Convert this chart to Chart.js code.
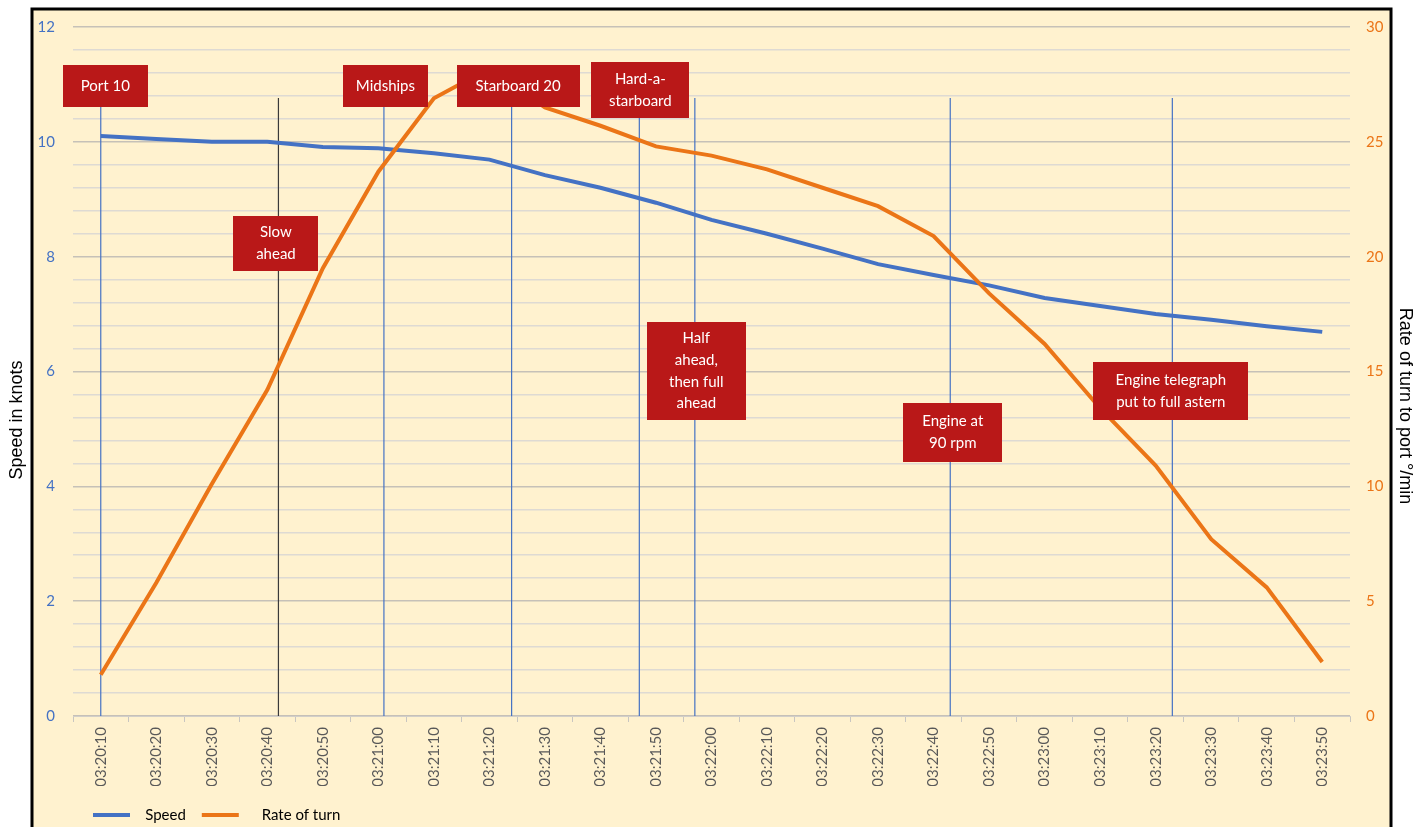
<!DOCTYPE html>
<html>
<head>
<meta charset="utf-8">
<script src="https://cdn.jsdelivr.net/npm/chart.js@4.4.1/dist/chart.umd.min.js"></script>
<style>
  html, body { margin: 0; padding: 0; background: #fff; }
  #wrap { width: 1427px; height: 827px; }
</style>
</head>
<body>
<div id="wrap"><canvas id="graphique" width="1427" height="827"></canvas></div>
<script>
// time stamps along the x axis
var timeLabels = ['03:20:10', '03:20:20', '03:20:30', '03:20:40', '03:20:50',
    '03:21:00', '03:21:10', '03:21:20', '03:21:30', '03:21:40', '03:21:50',
    '03:22:00', '03:22:10', '03:22:20', '03:22:30', '03:22:40', '03:22:50',
    '03:23:00', '03:23:10', '03:23:20', '03:23:30', '03:23:40', '03:23:50'];

// speed in knots (left axis)
var speedKnots = [10.1, 10.05, 10.0, 10.0, 9.91, 9.89, 9.8, 9.69, 9.42, 9.2, 8.94,
    8.64, 8.4, 8.14, 7.87, 7.68, 7.5, 7.28, 7.14, 7.0, 6.9, 6.79, 6.69];

// rate of turn to port, degrees per minute (right axis)
var turnRate = [1.8, 5.8, 10.1, 14.2, 19.5, 23.7, 26.9, 28.2, 26.5, 25.7, 24.8,
    24.4, 23.8, 23.0, 22.2, 20.9, 18.4, 16.2, 13.4, 10.9, 7.7, 5.6, 2.35];

// orders given, and when
var eventTimes = ['03:20:10', '03:20:42', '03:21:01', '03:21:24', '03:21:47',
    '03:21:57', '03:22:43', '03:23:23'];
var eventNotes = [['Port 10'], ['Slow', 'ahead'], ['Midships'], ['Starboard 20'],
    ['Hard-a-', 'starboard'], ['Half', 'ahead,', 'then full', 'ahead'],
    ['Engine at', '90 rpm'], ['Engine telegraph', 'put to full astern']];

// box layout for the notes (pixels): width, height, top, shift from the line
var noteBoxes = [
    { w: 85, h: 42, top: 65, dx: 4.5 },
    { w: 85, h: 55, top: 216, dx: -2.5 },
    { w: 85, h: 42, top: 65, dx: 1.5 },
    { w: 123, h: 42, top: 65, dx: 6.5 },
    { w: 98, h: 56, top: 62, dx: 1 },
    { w: 99, h: 98, top: 322, dx: 1.5 },
    { w: 99, h: 59, top: 403, dx: 2.5 },
    { w: 155, h: 58, top: 362, dx: -1.5 }
];
var eventLineColors = ['#4472C4', '#3a3a3a', '#4472C4', '#4472C4', '#4472C4', '#4472C4', '#4472C4', '#4472C4'];

var BLEU = '#4472C4';
var ORANGE = '#EB7517';
var POLICE = 'Lato, "Open Sans", sans-serif';

function enSecondes(t) {
    var p = t.split(':');
    return (+p[0]) * 3600 + (+p[1]) * 60 + (+p[2]);
}
var debut = enSecondes(timeLabels[0]);
var pas = enSecondes(timeLabels[1]) - debut;

var cadre = {
    id: 'cadre',
    beforeDraw: function(chart) {
        var ctx = chart.ctx;
        ctx.save();
        ctx.fillStyle = '#ffffff';
        ctx.fillRect(0, 0, chart.width, chart.height);
        ctx.fillStyle = '#FFF2CF';
        ctx.fillRect(32, 9, 1359, 830);
        ctx.strokeStyle = '#000000';
        ctx.lineWidth = 3;
        ctx.strokeRect(32, 9, 1359, 830);
        ctx.restore();
    },
    afterLayout: function(chart) {
        // legend sits under the plot, starting near the left axis
        chart.legend.left = 77;
        chart.legend.top = 791.5;
    }
};

var evenements = {
    id: 'evenements',
    beforeDatasetsDraw: function(chart) {
        var ctx = chart.ctx, x = chart.scales.x, y = chart.scales.y;
        ctx.save();
        eventTimes.forEach(function(t, i) {
            var px = x.getPixelForValue((enSecondes(t) - debut) / pas);
            ctx.strokeStyle = eventLineColors[i];
            ctx.lineWidth = 1.2;
            ctx.beginPath();
            ctx.moveTo(px, 98);
            ctx.lineTo(px, y.getPixelForValue(0));
            ctx.stroke();
        });
        ctx.restore();
    },
    afterDatasetsDraw: function(chart) {
        var ctx = chart.ctx, x = chart.scales.x;
        ctx.save();
        ctx.font = '15px ' + POLICE;
        ctx.textAlign = 'center';
        ctx.textBaseline = 'middle';
        eventTimes.forEach(function(t, i) {
            var b = noteBoxes[i];
            var cx = x.getPixelForValue((enSecondes(t) - debut) / pas) + b.dx;
            ctx.fillStyle = '#B91818';
            ctx.fillRect(Math.round(cx - b.w / 2), b.top, b.w, b.h);
            ctx.fillStyle = '#ffffff';
            var lignes = eventNotes[i];
            var cy = b.top + b.h / 2;
            lignes.forEach(function(l, k) {
                ctx.fillText(l, cx, cy + (k - (lignes.length - 1) / 2) * 21.7);
            });
        });
        ctx.restore();
    },
    afterDraw: function(chart) {
        var ctx = chart.ctx;
        ctx.save();
        ctx.fillStyle = '#000000';
        ctx.font = '18px "Liberation Sans", Arial, sans-serif';
        ctx.textAlign = 'center';
        ctx.textBaseline = 'middle';
        ctx.translate(17, 420);
        ctx.rotate(-Math.PI / 2);
        ctx.fillText('Speed in knots', 0, 0);
        ctx.restore();
        ctx.save();
        ctx.fillStyle = '#000000';
        ctx.font = '18px "Liberation Sans", Arial, sans-serif';
        ctx.textAlign = 'center';
        ctx.textBaseline = 'middle';
        ctx.translate(1405, 406);
        ctx.rotate(Math.PI / 2);
        ctx.fillText('Rate of turn to port \u00B0/min', 0, 0);
        ctx.restore();
    }
};

var ctx = document.getElementById('graphique').getContext('2d');
var chart = new Chart(ctx, {
    type: 'line',
    data: {
        labels: timeLabels,
        datasets: [
            {
                label: 'Speed',
                data: speedKnots,
                yAxisID: 'y',
                borderColor: BLEU,
                backgroundColor: BLEU,
                borderWidth: 4,
                pointRadius: 0,
                tension: 0,
                order: 2
            },
            {
                label: 'Rate of turn',
                data: turnRate,
                yAxisID: 'y1',
                borderColor: ORANGE,
                backgroundColor: ORANGE,
                borderWidth: 4,
                pointRadius: 0,
                tension: 0,
                order: 1
            }
        ]
    },
    options: {
        responsive: false,
        animation: false,
        devicePixelRatio: 1,
        layout: { padding: { top: 27, left: 0, right: 0, bottom: 0 } },
        plugins: {
            tooltip: { enabled: false },
            legend: {
                position: 'bottom',
                align: 'start',
                labels: {
                    boxWidth: 37,
                    boxHeight: 4,
                    padding: 16,
                    color: '#000000',
                    font: { family: POLICE, size: 15 },
                    generateLabels: function(chart) {
                        return chart.data.datasets.map(function(ds, i) {
                            return {
                                text: (i === 0 ? '  ' : '    ') + ds.label,
                                fillStyle: ds.borderColor,
                                strokeStyle: ds.borderColor,
                                lineWidth: 0,
                                datasetIndex: i,
                                hidden: false
                            };
                        });
                    }
                }
            }
        },
        scales: {
            x: {
                offset: true,
                grid: {
                    offset: true,
                    drawOnChartArea: false,
                    drawTicks: true,
                    tickLength: 6,
                    color: '#C9C6C0'
                },
                border: { color: '#D2CFC9', width: 1 },
                ticks: {
                    minRotation: 90,
                    maxRotation: 90,
                    autoSkip: false,
                    padding: 5,
                    color: '#595959',
                    font: { family: POLICE, size: 15 }
                },
                afterFit: function(s) { s.height = 70; }
            },
            y: {
                position: 'left',
                min: 0,
                max: 12,
                grid: { display: false, drawTicks: false },
                border: { display: false },
                ticks: {
                    stepSize: 2,
                    padding: 18,
                    color: BLEU,
                    font: { family: POLICE, size: 15 }
                },
                afterFit: function(s) { s.width = 73; }
            },
            y1: {
                position: 'right',
                min: 0,
                max: 30,
                border: { display: false },
                grid: {
                    drawTicks: false,
                    color: function(c) {
                        return c.tick.value % 5 === 0 ? '#C6C1B8' : '#DEDAD3';
                    },
                    lineWidth: 1.5
                },
                ticks: {
                    stepSize: 1,
                    padding: 16,
                    color: ORANGE,
                    font: { family: POLICE, size: 15 },
                    callback: function(v) { return v % 5 === 0 ? v : ''; }
                },
                afterFit: function(s) { s.width = 77; }
            }
        }
    },
    plugins: [cadre, evenements]
});
</script>
</body>
</html>
